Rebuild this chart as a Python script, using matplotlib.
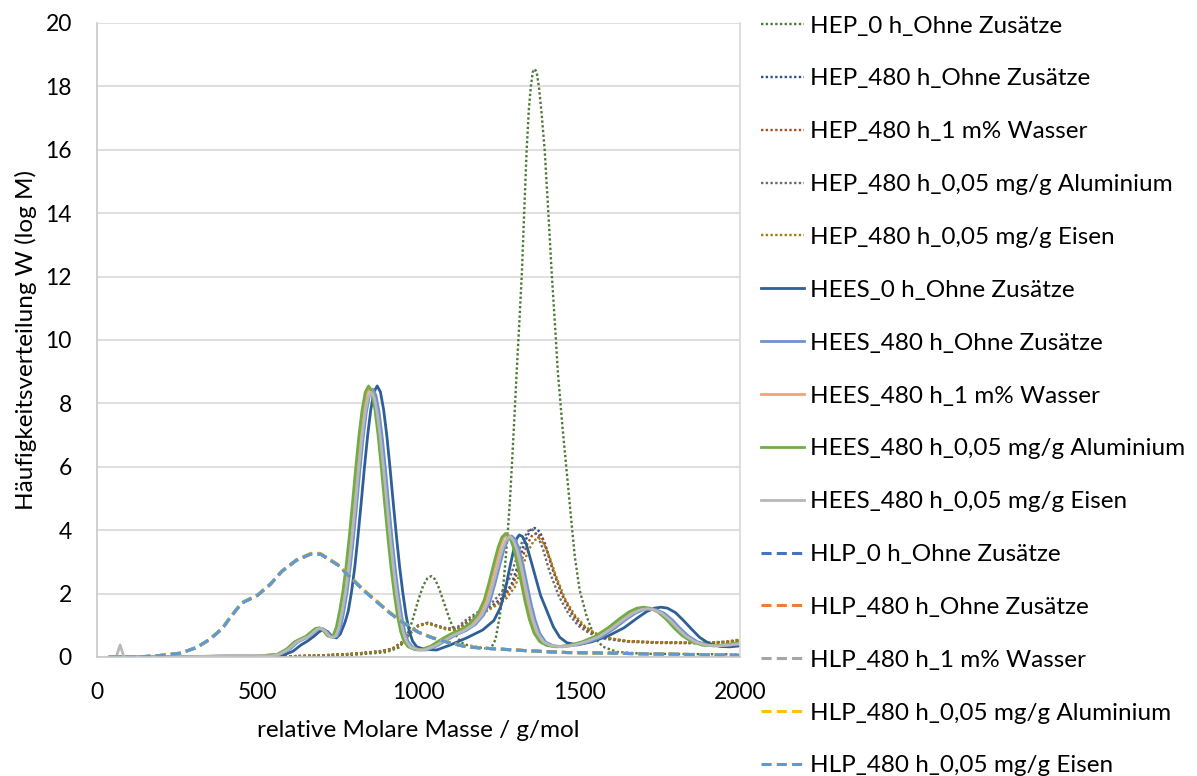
import matplotlib

matplotlib.use("Agg")
import matplotlib.pyplot as plt

plt.rcParams["font.family"] = ["Lato", "DejaVu Sans"]

# HEP (dotted)
hep0_x = [40, 400, 600, 700, 800, 900, 940, 960, 980, 1000, 1015, 1028, 1040, 1052, 1065, 1080, 1098, 1120,
          1135, 1150, 1190, 1225, 1240, 1253, 1262, 1270, 1278, 1286, 1295, 1306, 1315, 1322, 1330, 1337,
          1344, 1350, 1356, 1362, 1368, 1375, 1383, 1393, 1404, 1415, 1425, 1434, 1448, 1462, 1475, 1487,
          1502, 1524, 1543, 1560, 1575, 1617, 1700, 2000]
hep0_y = [0, 0, 0.01, 0.03, 0.07, 0.15, 0.3, 0.55, 1.1, 1.8, 2.25, 2.48, 2.55, 2.45, 2.15, 1.7, 1.17, 0.63,
          0.45, 0.38, 0.3, 0.25, 0.55, 1.27, 2.0, 2.9, 3.9, 5.1, 6.8, 9.0, 10.7, 12.1, 14.2, 16.0,
          17.3, 18.0, 18.45, 18.55, 18.45, 18.0, 17.2, 16.0, 14.1, 12.1, 10.5, 9.0, 7.3, 5.8, 4.4, 3.15,
          2.1, 1.27, 0.76, 0.48, 0.32, 0.16, 0.1, 0.08]

hep_ohne_x = [40, 400, 600, 700, 800, 880, 920, 950, 975, 1000, 1030, 1060, 1090, 1120, 1150, 1190, 1230,
              1265, 1290, 1310, 1330, 1348, 1362, 1378, 1395, 1415, 1445, 1475, 1505, 1535, 1580, 1650,
              1750, 1900, 1960, 2000]
hep_ohne_y = [0, 0, 0.02, 0.05, 0.1, 0.17, 0.25, 0.45, 0.75, 0.98, 1.07, 0.97, 0.87, 0.87, 1.1, 1.38, 1.62,
              1.9, 2.3, 2.9, 3.6, 4.0, 4.07, 3.95, 3.55, 2.85, 2.0, 1.4, 1.0, 0.78, 0.6, 0.49,
              0.45, 0.44, 0.47, 0.52]

hep_wasser_x = [40, 400, 600, 700, 800, 880, 920, 950, 975, 1000, 1030, 1060, 1090, 1120, 1150, 1190, 1230,
                1265, 1295, 1318, 1338, 1355, 1370, 1385, 1402, 1422, 1450, 1480, 1510, 1540, 1585, 1650,
                1750, 1900, 1960, 2000]
hep_wasser_y = [0, 0, 0.02, 0.05, 0.1, 0.18, 0.27, 0.48, 0.78, 1.0, 1.08, 0.98, 0.88, 0.87, 1.08, 1.35, 1.58,
                1.85, 2.3, 2.95, 3.55, 3.85, 3.9, 3.75, 3.3, 2.65, 1.9, 1.35, 1.0, 0.78, 0.6, 0.5,
                0.46, 0.45, 0.48, 0.53]

hep_alu_x = [40, 400, 600, 700, 800, 880, 920, 950, 975, 1000, 1030, 1060, 1090, 1120, 1150, 1190, 1230,
             1260, 1285, 1305, 1325, 1342, 1355, 1370, 1388, 1408, 1438, 1468, 1498, 1530, 1575, 1650,
             1750, 1900, 1960, 2000]
hep_alu_y = [0, 0, 0.02, 0.05, 0.1, 0.18, 0.26, 0.46, 0.77, 1.0, 1.08, 0.98, 0.9, 0.93, 1.18, 1.45, 1.72,
             2.05, 2.5, 3.1, 3.7, 3.98, 4.02, 3.85, 3.4, 2.7, 1.9, 1.35, 0.98, 0.76, 0.58, 0.48,
             0.44, 0.43, 0.46, 0.5]

hep_eisen_x = [40, 400, 600, 700, 800, 880, 920, 950, 975, 1000, 1030, 1060, 1090, 1120, 1150, 1190, 1230,
               1270, 1300, 1322, 1342, 1360, 1376, 1392, 1410, 1430, 1458, 1488, 1518, 1548, 1590, 1650,
               1750, 1900, 1960, 2000]
hep_eisen_y = [0, 0, 0.02, 0.05, 0.1, 0.17, 0.25, 0.45, 0.75, 0.98, 1.05, 0.95, 0.86, 0.85, 1.05, 1.32, 1.55,
               1.8, 2.2, 2.8, 3.35, 3.68, 3.75, 3.55, 3.1, 2.5, 1.8, 1.3, 0.97, 0.76, 0.6, 0.5,
               0.46, 0.45, 0.49, 0.55]

# HEES (solid)
hees0_x = [40, 150, 300, 420, 520, 580, 610, 635, 655, 675, 692, 705, 718, 732, 745, 757, 772, 782, 792, 802,
           812, 822, 832, 842, 852, 862, 872, 882, 892, 902, 912, 922, 932, 942, 952, 962, 972, 982, 995,
           1020, 1057, 1100, 1150, 1200, 1235, 1255, 1270, 1283, 1296, 1305, 1314, 1324, 1336, 1350, 1365,
           1380, 1400, 1420, 1440, 1462, 1495, 1540, 1590, 1640, 1680, 1710, 1735, 1755, 1775, 1800, 1825,
           1850, 1875, 1905, 1940, 1970, 2000]
hees0_y = [0, 0, 0.01, 0.02, 0.02, 0.06, 0.18, 0.38, 0.5, 0.65, 0.8, 0.86, 0.8, 0.64, 0.6, 0.72, 1.1, 1.45,
           2.05, 2.82, 3.79, 4.85, 5.95, 6.97, 7.8, 8.36, 8.55, 8.36, 7.8, 6.97, 5.95, 4.85, 3.79, 2.82,
           2.0, 1.3, 0.8, 0.5, 0.32, 0.24, 0.22, 0.38, 0.6, 0.85, 1.15, 1.55, 2.1, 2.75, 3.35, 3.72, 3.85,
           3.8, 3.55, 3.05, 2.5, 1.95, 1.45, 0.95, 0.62, 0.45, 0.38, 0.48, 0.66, 0.92, 1.22, 1.43, 1.54,
           1.57, 1.54, 1.4, 1.15, 0.88, 0.62, 0.42, 0.33, 0.32, 0.35]

hees_ohne_x = [40, 150, 300, 420, 500, 570, 600, 625, 645, 660, 675, 690, 702, 715, 728, 738,
               748, 758, 768, 778, 788, 798, 808, 818, 828, 838, 848, 858, 868, 878, 888, 898, 908, 918,
               928, 938, 948, 958, 968, 981, 1003,
               1025, 1058, 1088, 1118, 1148, 1178, 1203, 1223, 1238, 1253, 1266, 1278, 1290, 1302, 1314,
               1326, 1338, 1350, 1363, 1378, 1396, 1418, 1448, 1488,
               1530, 1570, 1610, 1645, 1675, 1700, 1720, 1740, 1765, 1790, 1815, 1840, 1870, 1905, 1940,
               1975, 2000]
hees_ohne_y = [0, 0, 0.01, 0.03, 0.03, 0.08, 0.24, 0.47, 0.57, 0.64, 0.77, 0.89, 0.9, 0.8, 0.65, 0.62,
               0.67, 0.94, 1.43, 2.03, 2.82, 3.74, 4.79, 5.88, 6.89, 7.71, 8.26, 8.45, 8.26, 7.71, 6.89,
               5.88, 4.79, 3.74, 2.79, 1.98, 1.28, 0.79, 0.49, 0.32, 0.23,
               0.22, 0.35, 0.53, 0.7, 0.83, 1.03, 1.32, 1.76, 2.3, 2.89, 3.38, 3.7, 3.82, 3.7, 3.38,
               2.89, 2.3, 1.71, 1.18, 0.74, 0.47, 0.36, 0.32, 0.37,
               0.47, 0.63, 0.9, 1.17, 1.38, 1.49, 1.52, 1.49, 1.38, 1.17, 0.9, 0.66, 0.47, 0.37, 0.35,
               0.38, 0.4]

hees_wasser_x = [40, 150, 300, 420, 500, 563, 593, 618, 638, 653, 668, 683, 695, 708, 721, 731,
                 739, 749, 759, 769, 779, 789, 799, 809, 819, 829, 839, 849, 859, 869, 879, 889, 899, 909,
                 919, 929, 939, 949, 959, 972, 994,
                 1012, 1045, 1075, 1105, 1135, 1165, 1190, 1210, 1225, 1240, 1253, 1265, 1277, 1289, 1301,
                 1313, 1325, 1337, 1350, 1365, 1383, 1405, 1435, 1475,
                 1515, 1555, 1595, 1630, 1660, 1685, 1705, 1725, 1750, 1775, 1800, 1825, 1855, 1890, 1925,
                 1965, 2000]
hees_wasser_y = [0, 0, 0.01, 0.03, 0.03, 0.08, 0.25, 0.48, 0.58, 0.65, 0.78, 0.9, 0.91, 0.81, 0.66, 0.63,
                 0.67, 0.94, 1.44, 2.04, 2.83, 3.77, 4.82, 5.91, 6.93, 7.75, 8.31, 8.5, 8.31, 7.75, 6.93,
                 5.91, 4.82, 3.77, 2.8, 1.99, 1.29, 0.8, 0.5, 0.32, 0.23,
                 0.22, 0.35, 0.54, 0.71, 0.84, 1.04, 1.34, 1.79, 2.34, 2.93, 3.43, 3.76, 3.88, 3.76, 3.43,
                 2.93, 2.34, 1.74, 1.19, 0.75, 0.48, 0.36, 0.32, 0.37,
                 0.48, 0.64, 0.91, 1.19, 1.4, 1.52, 1.55, 1.52, 1.4, 1.19, 0.91, 0.67, 0.48, 0.37, 0.35,
                 0.39, 0.44]

hees_alu_x = [40, 150, 300, 420, 500, 560, 590, 615, 635, 650, 665, 680, 692, 705, 718, 728,
              735, 745, 755, 765, 775, 785, 795, 805, 815, 825, 835, 845, 855, 865, 875, 885, 895, 905,
              915, 925, 935, 945, 955, 968, 990,
              1005, 1040, 1070, 1100, 1130, 1160, 1185, 1205, 1220, 1235, 1248, 1260, 1272, 1284, 1296,
              1308, 1320, 1332, 1345, 1360, 1378, 1400, 1430, 1470,
              1510, 1550, 1590, 1625, 1655, 1680, 1700, 1720, 1745, 1770, 1795, 1820, 1850, 1885, 1920,
              1960, 2000]
hees_alu_y = [0, 0, 0.01, 0.03, 0.03, 0.08, 0.25, 0.48, 0.58, 0.65, 0.78, 0.9, 0.92, 0.82, 0.66, 0.63,
              0.68, 0.95, 1.45, 2.05, 2.85, 3.79, 4.85, 5.95, 6.97, 7.8, 8.36, 8.55, 8.36, 7.8, 6.97,
              5.95, 4.85, 3.79, 2.82, 2.0, 1.3, 0.8, 0.5, 0.32, 0.23,
              0.22, 0.35, 0.55, 0.72, 0.85, 1.05, 1.35, 1.8, 2.35, 2.95, 3.45, 3.78, 3.9, 3.78, 3.45,
              2.95, 2.35, 1.75, 1.2, 0.75, 0.48, 0.36, 0.32, 0.37,
              0.48, 0.65, 0.92, 1.2, 1.42, 1.54, 1.57, 1.54, 1.42, 1.2, 0.92, 0.68, 0.48, 0.37, 0.35,
              0.39, 0.45]

hees_eisen_x = [40, 60, 72, 84, 150, 300, 420, 480, 540, 566, 596, 621, 641, 656, 671, 686, 698, 711, 724, 734,
                743, 753, 763, 773, 783, 793, 803, 813, 823, 833, 843, 853, 863, 873, 883, 893, 903, 913,
                923, 933, 943, 953, 963, 976, 998,
                1018, 1052, 1082, 1112, 1142, 1172, 1197, 1217, 1232, 1247, 1260, 1272, 1284, 1296, 1308,
                1320, 1332, 1344, 1357, 1372, 1390, 1412, 1442, 1482,
                1522, 1562, 1602, 1637, 1667, 1692, 1712, 1732, 1757, 1782, 1807, 1832, 1862, 1897, 1932,
                1970, 2000]
hees_eisen_y = [0, 0, 0.38, 0, 0, 0.01, 0.05, 0.05, 0.03, 0.08, 0.24, 0.47, 0.57, 0.63, 0.76, 0.88, 0.9, 0.8,
                0.64, 0.62,
                0.66, 0.93, 1.42, 2.0, 2.78, 3.7, 4.74, 5.81, 6.81, 7.62, 8.17, 8.35, 8.17, 7.62, 6.81,
                5.81, 4.74, 3.7, 2.76, 1.95, 1.27, 0.78, 0.49, 0.31, 0.23,
                0.22, 0.35, 0.53, 0.7, 0.83, 1.02, 1.31, 1.75, 2.29, 2.87, 3.36, 3.68, 3.8, 3.68, 3.36,
                2.87, 2.29, 1.7, 1.17, 0.73, 0.47, 0.36, 0.32, 0.37,
                0.48, 0.64, 0.9, 1.17, 1.38, 1.49, 1.52, 1.49, 1.38, 1.17, 0.9, 0.66, 0.47, 0.37, 0.35,
                0.38, 0.42]

# HLP (dashed)
hlp_x = [40, 130, 200, 260, 310, 350, 390, 415, 450, 500, 540, 575, 620, 665, 695, 750, 790, 830, 870, 910,
         950, 1000, 1045, 1100, 1150, 1200, 1250, 1350, 1460, 1540, 1700, 1960, 2000]
hlp0_y = [0, 0, 0.05, 0.12, 0.3, 0.55, 0.9, 1.25, 1.7, 1.95, 2.3, 2.7, 3.05, 3.25, 3.25, 2.9, 2.5, 2.1, 1.75,
          1.4, 1.1, 0.78, 0.6, 0.44, 0.32, 0.28, 0.25, 0.19, 0.14, 0.13, 0.1, 0.06, 0.05]
hlp_ohne_y = [0, 0, 0.05, 0.12, 0.29, 0.54, 0.89, 1.24, 1.69, 1.94, 2.29, 2.69, 3.04, 3.24, 3.24, 2.9, 2.5,
              2.1, 1.75, 1.4, 1.1, 0.78, 0.6, 0.44, 0.32, 0.28, 0.25, 0.19, 0.14, 0.13, 0.1, 0.06, 0.05]
hlp_wasser_y = [0, 0, 0.05, 0.12, 0.3, 0.55, 0.9, 1.25, 1.7, 1.96, 2.31, 2.71, 3.06, 3.26, 3.26, 2.91, 2.51,
                2.11, 1.76, 1.41, 1.1, 0.78, 0.6, 0.44, 0.32, 0.28, 0.25, 0.19, 0.14, 0.13, 0.1, 0.06, 0.05]
hlp_alu_y = [0, 0, 0.05, 0.12, 0.3, 0.56, 0.91, 1.26, 1.71, 1.96, 2.31, 2.71, 3.06, 3.27, 3.27, 2.92, 2.52,
             2.12, 1.77, 1.42, 1.11, 0.79, 0.61, 0.45, 0.33, 0.28, 0.25, 0.19, 0.14, 0.13, 0.1, 0.06, 0.05]
hlp_eisen_y = [0, 0, 0.05, 0.12, 0.3, 0.55, 0.9, 1.25, 1.7, 1.95, 2.3, 2.7, 3.05, 3.25, 3.25, 2.9, 2.5, 2.1,
               1.75, 1.4, 1.1, 0.78, 0.6, 0.44, 0.32, 0.28, 0.25, 0.19, 0.14, 0.13, 0.1, 0.06, 0.05]

series = [
    ("HEP_0 h_Ohne Zusätze", hep0_x, hep0_y, "#4E7A35", "dot"),
    ("HEP_480 h_Ohne Zusätze", hep_ohne_x, hep_ohne_y, "#2F4F8F", "dot"),
    ("HEP_480 h_1 m% Wasser", hep_wasser_x, hep_wasser_y, "#A8501A", "dot"),
    ("HEP_480 h_0,05 mg/g Aluminium", hep_alu_x, hep_alu_y, "#6B6B6B", "dot"),
    ("HEP_480 h_0,05 mg/g Eisen", hep_eisen_x, hep_eisen_y, "#A07E10", "dot"),
    ("HEES_0 h_Ohne Zusätze", hees0_x, hees0_y, "#2E5F97", "solid"),
    ("HEES_480 h_Ohne Zusätze", hees_ohne_x, hees_ohne_y, "#6E93D3", "solid"),
    ("HEES_480 h_1 m% Wasser", hees_wasser_x, hees_wasser_y, "#F4A273", "solid"),
    ("HEES_480 h_0,05 mg/g Aluminium", hees_alu_x, hees_alu_y, "#70AD47", "solid"),
    ("HEES_480 h_0,05 mg/g Eisen", hees_eisen_x, hees_eisen_y, "#B8B8B8", "solid"),
    ("HLP_0 h_Ohne Zusätze", hlp_x, hlp0_y, "#4472C4", "dash"),
    ("HLP_480 h_Ohne Zusätze", hlp_x, hlp_ohne_y, "#ED7D31", "dash"),
    ("HLP_480 h_1 m% Wasser", hlp_x, hlp_wasser_y, "#A5A5A5", "dash"),
    ("HLP_480 h_0,05 mg/g Aluminium", hlp_x, hlp_alu_y, "#FFC000", "dash"),
    ("HLP_480 h_0,05 mg/g Eisen", hlp_x, hlp_eisen_y, "#5B9BD5", "dash"),
]

STYLES = {
    "dot": dict(linestyle=(0, (1, 1)), linewidth=1.7),
    "solid": dict(linestyle="-", linewidth=2.0),
    "dash": dict(linestyle=(0, (3.3, 1.7)), linewidth=2.2),
}
GRID = "#D9D9D9"

fig = plt.figure(figsize=(11.97, 7.76), dpi=100)
ax = fig.add_axes([0.081, 0.1534, 0.537, 0.817])

handles = []
for label, xs, ys, color, kind in series:
    (h,) = ax.plot(xs, ys, color=color, label=label, solid_joinstyle="round", **STYLES[kind])
    handles.append(h)

ax.set_xlim(0, 2000)
ax.set_ylim(0, 20)
ax.set_xticks(range(0, 2001, 500))
ax.set_yticks(range(0, 21, 2))
ax.tick_params(length=0, labelsize=16.5, pad=18, labelcolor="black")
ax.grid(axis="y", color=GRID, linewidth=1.2)
ax.set_axisbelow(True)
ax.spines["top"].set_visible(False)
ax.spines["left"].set_color("#C8C8C8")
ax.spines["bottom"].set_color("#C8C8C8")
ax.spines["right"].set_color(GRID)
for s in ax.spines.values():
    s.set_linewidth(1.2)

ax.set_xlabel("relative Molare Masse / g/mol", fontsize=17.5, labelpad=12)
ax.set_ylabel("Häufigkeitsverteilung W (log M)", fontsize=17.5, labelpad=6)

fig.legend(handles=handles, loc="upper left", bbox_to_anchor=(0.636, 0.980), frameon=False,
           fontsize=17.5, handlelength=1.77, handletextpad=0.22, labelspacing=1.31,
           borderpad=0, borderaxespad=0)

fig.savefig("out.png", dpi=100)
